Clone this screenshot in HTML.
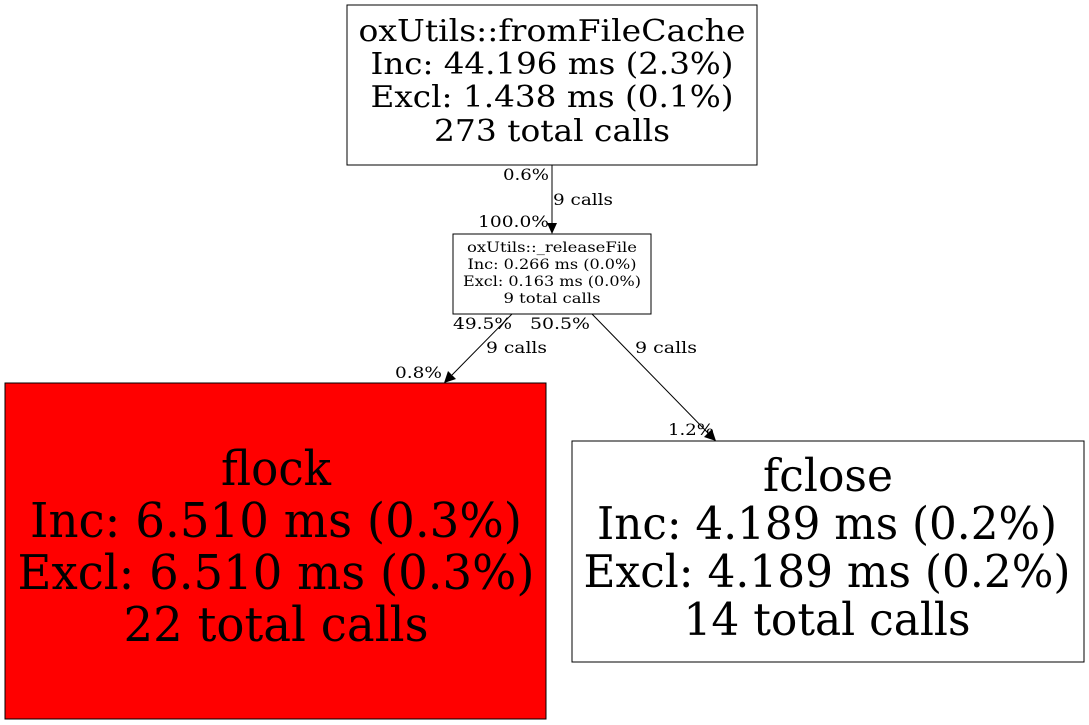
<!DOCTYPE html>
<html><head><meta charset="utf-8"><style>
html,body{margin:0;padding:0;background:#fff;}
svg{display:block;}
text{font-family:"DejaVu Serif","Liberation Serif",serif;fill:#000;}
</style></head><body>
<svg width="1089" height="725" viewBox="0 0 1089 725" xmlns="http://www.w3.org/2000/svg">
<rect x="0" y="0" width="1089" height="725" fill="#fff"/>
<rect x="347" y="5" width="410" height="160" fill="#fff" stroke="#000" stroke-width="1"/>
<g font-size="30" text-anchor="middle">
<text x="552" y="41" textLength="387" lengthAdjust="spacingAndGlyphs">oxUtils::fromFileCache</text>
<text x="552" y="74" textLength="363" lengthAdjust="spacingAndGlyphs">Inc: 44.196 ms (2.3%)</text>
<text x="552" y="107" textLength="363" lengthAdjust="spacingAndGlyphs">Excl: 1.438 ms (0.1%)</text>
<text x="552" y="141" textLength="236" lengthAdjust="spacingAndGlyphs">273 total calls</text>
</g>
<rect x="453" y="234" width="198" height="80" fill="#fff" stroke="#000" stroke-width="1"/>
<g font-size="14" text-anchor="middle">
<text x="552" y="252" textLength="170" lengthAdjust="spacingAndGlyphs">oxUtils::_releaseFile</text>
<text x="552" y="269" textLength="169" lengthAdjust="spacingAndGlyphs">Inc: 0.266 ms (0.0%)</text>
<text x="552" y="286" textLength="178" lengthAdjust="spacingAndGlyphs">Excl: 0.163 ms (0.0%)</text>
<text x="552" y="303" textLength="97" lengthAdjust="spacingAndGlyphs">9 total calls</text>
</g>
<rect x="5" y="383" width="541" height="336" fill="#ff0000" stroke="#000" stroke-width="1"/>
<g font-size="48" text-anchor="middle">
<text x="276" y="485" textLength="110" lengthAdjust="spacingAndGlyphs">flock</text>
<text x="276" y="537" textLength="492" lengthAdjust="spacingAndGlyphs">Inc: 6.510 ms (0.3%)</text>
<text x="276" y="589" textLength="517" lengthAdjust="spacingAndGlyphs">Excl: 6.510 ms (0.3%)</text>
<text x="276" y="641" textLength="305" lengthAdjust="spacingAndGlyphs">22 total calls</text>
</g>
<rect x="572" y="441" width="512" height="221" fill="#fff" stroke="#000" stroke-width="1"/>
<g font-size="44.5" text-anchor="middle">
<text x="828" y="491" textLength="130" lengthAdjust="spacingAndGlyphs">fclose</text>
<text x="827" y="539" textLength="460" lengthAdjust="spacingAndGlyphs">Inc: 4.189 ms (0.2%)</text>
<text x="827" y="587" textLength="487" lengthAdjust="spacingAndGlyphs">Excl: 4.189 ms (0.2%)</text>
<text x="827" y="635" textLength="287" lengthAdjust="spacingAndGlyphs">14 total calls</text>
</g>
<line x1="552" y1="165" x2="552" y2="223" stroke="#000"/>
<polygon points="547,223 557,223 552,234" fill="#000"/>
<line x1="512" y1="314" x2="452" y2="375" stroke="#000"/>
<polygon points="448,371 456,379 444,383" fill="#000"/>
<line x1="592" y1="314" x2="708" y2="433" stroke="#000"/>
<polygon points="704,437 712,429 716,441" fill="#000"/>
<g font-size="16">
<text x="503" y="180" textLength="46" lengthAdjust="spacingAndGlyphs">0.6%</text>
<text x="553" y="205" textLength="60" lengthAdjust="spacingAndGlyphs">9 calls</text>
<text x="478" y="227" textLength="71" lengthAdjust="spacingAndGlyphs">100.0%</text>
<text x="453" y="329" textLength="59" lengthAdjust="spacingAndGlyphs">49.5%</text>
<text x="530" y="329" textLength="60" lengthAdjust="spacingAndGlyphs">50.5%</text>
<text x="486" y="353" textLength="61" lengthAdjust="spacingAndGlyphs">9 calls</text>
<text x="635" y="353" textLength="62" lengthAdjust="spacingAndGlyphs">9 calls</text>
<text x="395" y="378" textLength="47" lengthAdjust="spacingAndGlyphs">0.8%</text>
<text x="668" y="435" textLength="46" lengthAdjust="spacingAndGlyphs">1.2%</text>
</g>
</svg>
</body></html>
